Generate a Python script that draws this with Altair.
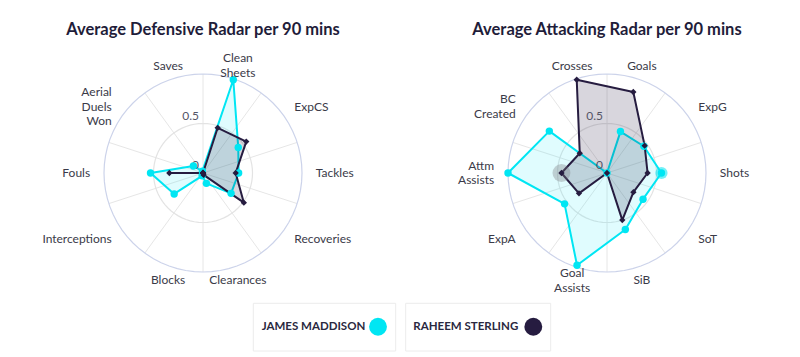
import math
import altair as alt
import pandas as pd

# ---------------- data ----------------
players = ["James Maddison", "Raheem Sterling"]
player_colors = ["#00e6f3", "#261c40"]
fill_opacity = [0.12, 0.18]
point_shapes = ["circle", "diamond"]
point_sizes = [55, 40]

titles = ["Average Defensive Radar per 90 mins", "Average Attacking Radar per 90 mins"]

def_axes = ["Clean\nSheets", "ExpCS", "Tackles", "Recoveries", "Clearances", "Blocks",
            "Interceptions", "Fouls", "Aerial\nDuels\nWon", "Saves"]
maddison_def = [0.99, 0.44, 0.36, 0.35, 0.11, 0.03, 0.36, 0.53, 0.12, 0.02]
sterling_def = [0.48, 0.54, 0.33, 0.51, 0.02, 0.0, 0.0, 0.34, 0.0, 0.0]

att_axes = ["Goals", "ExpG", "Shots", "SoT", "SiB", "Goal\nAssists", "ExpA",
            "Attm\nAssists", "BC\nCreated", "Crosses"]
maddison_att = [0.44, 0.46, 0.55, 0.45, 0.60, 0.98, 0.53, 1.0, 0.72, 0.0]
sterling_att = [0.86, 0.47, 0.41, 0.33, 0.50, 0.0, 0.35, 0.46, 0.34, 0.99]

tick_values = [0, 0.5]
ring_values = [0.5, 1.0]
# hover highlights visible in the reference: (player, radar, axis index)
highlights = [("Raheem Sterling", 1, 7), ("James Maddison", 1, 2)]

# ---------------- layout ----------------
W, H = 784, 345
UNIT = 99.0
CX = [0.0, 404 / UNIT]
XMIN, XMAX = -195 / UNIT, (W - 195) / UNIT
YMAX = 165 / UNIT
YMIN = YMAX - H / UNIT
LABEL_R = 1.14
LINE_H = 14.5
FONT = "Lato"

axes_sets = [def_axes, att_axes]
values = {("James Maddison", 0): maddison_def, ("Raheem Sterling", 0): sterling_def,
          ("James Maddison", 1): maddison_att, ("Raheem Sterling", 1): sterling_att}

rows = []
for (p, r), vals in values.items():
    for i, v in enumerate(vals):
        rows.append({"player": p, "radar": r, "cx": CX[r], "i": i, "value": v,
                     "axis": axes_sets[r][i].replace("\n", " "),
                     "hl": (p, r, i) in highlights})
df = pd.DataFrame(rows)

lab_rows = []
for r, labels in enumerate(axes_sets):
    for i, lab in enumerate(labels):
        lab_rows.append({"radar": r, "cx": CX[r], "i": i, "label": lab})
labels_df = pd.DataFrame(lab_rows)

spoke_df = pd.DataFrame([{"cx": CX[r], "k": k} for r in range(2) for k in range(10)])

ring_df = pd.DataFrame([{"cx": CX[r], "rad": rv, "ring": f"{r}-{rv}", "s": s}
                        for r in range(2) for rv in ring_values for s in range(73)])

tick_df = pd.DataFrame([{"cx": CX[r], "t": t, "txt": f"{t:g}"} for r in range(2) for t in tick_values])

title_df = pd.DataFrame([{"cx": CX[r], "title": titles[r]} for r in range(2)])

xs = alt.Scale(domain=[XMIN, XMAX], nice=False, zero=False)
ys = alt.Scale(domain=[YMIN, YMAX], nice=False, zero=False)
X = lambda f: alt.X(f, type="quantitative", scale=xs, axis=None)
Y = lambda f: alt.Y(f, type="quantitative", scale=ys, axis=None)

theta = "(18 + 36 * datum.i) * PI / 180"

spokes = alt.Chart(spoke_df).transform_calculate(
    a="datum.k * 36 * PI / 180",
    x0="datum.cx", y0="0",
    x1="datum.cx + sin(datum.a)", y1="cos(datum.a)",
).mark_rule(color="#e6e6e6", strokeWidth=1).encode(
    x=X("x0"), y=Y("y0"), x2="x1:Q", y2="y1:Q")

rings = alt.Chart(ring_df).transform_calculate(
    a="datum.s * 5 * PI / 180",
    x="datum.cx + datum.rad * sin(datum.a)",
    y="datum.rad * cos(datum.a)",
    c="datum.rad >= 1 ? 'outer' : 'inner'",
).mark_line(strokeWidth=1.2).encode(
    x=X("x"), y=Y("y"), detail="ring:N", order="s:Q",
    color=alt.Color("c:N", scale=alt.Scale(domain=["inner", "outer"], range=["#e3e3e3", "#ccd3ea"]), legend=None))

ticks = alt.Chart(tick_df).transform_calculate(x="datum.cx", y="datum.t").mark_text(
    align="right", baseline="bottom", dx=-4, dy=-1, font=FONT, fontSize=12, color="#555566").encode(
    x=X("x"), y=Y("y"), text="txt:N")

base = alt.Chart(df).transform_calculate(
    th=theta,
    x="datum.cx + datum.value * sin(datum.th)",
    y="datum.value * cos(datum.th)",
)

layers = [spokes, rings]
poly_layers, pt_layers, hl_layers = [], [], []
for j, p in enumerate(players):
    sub = base.transform_filter(alt.datum.player == p)
    poly_layers.append(sub.mark_line(
        interpolate="linear-closed", stroke=player_colors[j], strokeWidth=2,
        fill=player_colors[j], fillOpacity=fill_opacity[j], strokeJoin="round").encode(
        x=X("x"), y=Y("y"), detail="radar:N", order="i:Q"))
    pt_layers.append(sub.mark_point(
        shape=point_shapes[j], filled=True, size=point_sizes[j], color=player_colors[j], opacity=1).encode(
        x=X("x"), y=Y("y"), tooltip=["player:N", "axis:N", "value:Q"]))
    hl_layers.append(sub.transform_filter("datum.hl").mark_point(
        shape="circle", filled=True, size=320 if j == 1 else 150,
        color="#7a7a80" if j == 1 else player_colors[j], opacity=0.35 if j == 1 else 0.55).encode(
        x=X("x"), y=Y("y")))

layers += poly_layers + [ticks] + hl_layers + pt_layers

lab_base = alt.Chart(labels_df).transform_calculate(
    th=theta,
    n="length(split(datum.label, '\\n'))",
    x=f"datum.cx + {LABEL_R} * sin(datum.th)",
    y=f"{LABEL_R} * cos(datum.th) + (datum.n - 1) * {LINE_H / 2 / UNIT}",
    s="sin(datum.th)",
)
for cond, al in [("datum.s > 0.5", "left"), ("datum.s < -0.5", "right"),
                 ("abs(datum.s) <= 0.5", "center")]:
    layers.append(lab_base.transform_filter(cond).mark_text(
        align=al, baseline="middle", lineBreak="\n", lineHeight=LINE_H,
        font=FONT, fontSize=12, color="#3a3a48").encode(
        x=X("x"), y=Y("y"), text="label:N"))

layers.append(alt.Chart(title_df).transform_calculate(x="datum.cx").mark_text(
    font=FONT, fontSize=16.5, fontWeight="bold", color="#1f1d3a", baseline="middle", align="center").encode(
    x=X("x"), y=alt.value(22), text="title:N"))

# legend boxes
box_x = [(245.3, 387.7), (397.7, 542.7)]
box_y = (295.3, 343.0)
text_x = [253.7, 405.3]
dot_x = [370.0, 525.3]
dot_y = 318.7
leg_df = pd.DataFrame({"player": players})
for j, p in enumerate(players):
    one = alt.Chart(leg_df).transform_filter(alt.datum.player == p)
    layers.append(one.mark_rect(fill="white", stroke="#ececec", strokeWidth=1).encode(
        x=alt.value(box_x[j][0]), x2=alt.value(box_x[j][1]), y=alt.value(box_y[0]), y2=alt.value(box_y[1])))
    layers.append(one.transform_calculate(up="upper(datum.player)").mark_text(
        align="left", baseline="middle", font=FONT, fontSize=11.5, fontWeight="bold", color="#2a2840").encode(
        x=alt.value(text_x[j]), y=alt.value(dot_y + 0.6), text="up:N"))
    layers.append(one.mark_point(shape="circle", filled=True, size=320, color=player_colors[j], opacity=1).encode(
        x=alt.value(dot_x[j]), y=alt.value(dot_y)))

chart = alt.layer(*layers).properties(
    width=W, height=H, padding=0, autosize=alt.AutoSizeParams(type="none")
).configure_view(stroke=None)

chart.save("out.html", embed_options={"renderer": "svg", "actions": False})
